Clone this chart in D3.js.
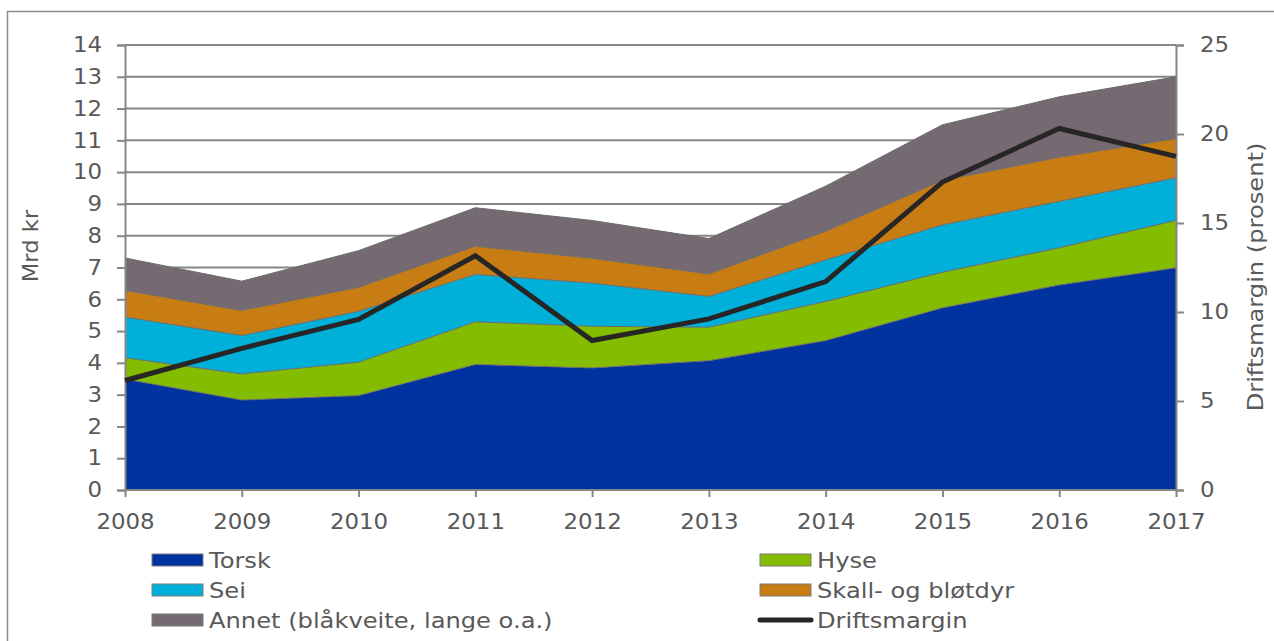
<!DOCTYPE html>
<html>
<head>
<meta charset="utf-8">
<script src="https://cdn.jsdelivr.net/npm/d3@7"></script>
<style>
  html, body { margin: 0; padding: 0; background: #fff; }
  svg { display: block; font-family: "DejaVu Sans", Verdana, sans-serif; }
</style>
</head>
<body>
<svg id="chart" width="1274" height="641"></svg>
<script>
const years = [2008, 2009, 2010, 2011, 2012, 2013, 2014, 2015, 2016, 2017];
const torsk = [3.49, 2.83, 2.97, 3.95, 3.84, 4.07, 4.70, 5.73, 6.45, 6.99];
const hyse  = [0.67, 0.82, 1.05, 1.34, 1.31, 1.05, 1.23, 1.12, 1.17, 1.49];
const sei   = [1.28, 1.21, 1.60, 1.49, 1.36, 0.97, 1.31, 1.49, 1.46, 1.34];
const skall = [0.84, 0.79, 0.76, 0.89, 0.78, 0.71, 0.90, 1.40, 1.39, 1.24];
const annet = [1.02, 0.92, 1.15, 1.21, 1.19, 1.11, 1.42, 1.75, 1.90, 1.94];
const driftsmargin = [6.15, 7.96, 9.58, 13.16, 8.40, 9.61, 11.71, 17.30, 20.31, 18.74];

const seriesNames = ["Torsk", "Hyse", "Sei", "Skall- og bløtdyr", "Annet (blåkveite, lange o.a.)"];
const seriesKeys = ["torsk", "hyse", "sei", "skall", "annet"];
const seriesColors = ["#0033a0", "#84bd00", "#00b0d8", "#c77c14", "#766a72"];
const leftTicks = [0,1,2,3,4,5,6,7,8,9,10,11,12,13,14];
const rightTicks = [0,5,10,15,20,25];

const rows = years.map((y, i) => ({
  year: y, torsk: torsk[i], hyse: hyse[i], sei: sei[i], skall: skall[i], annet: annet[i]
}));

const svg = d3.select("#chart");
const textColor = "#595959";
const axisColor = "#868686";
const fs = 21;

function widen(sel, f) {
  sel.each(function () {
    const w = this.getComputedTextLength();
    d3.select(this).attr("textLength", w * f).attr("lengthAdjust", "spacingAndGlyphs");
  });
}

// outer frame
svg.append("rect").attr("x", 7.5).attr("y", 11.5).attr("width", 1300).attr("height", 700)
  .attr("fill", "none").attr("stroke", "#8c8c8c").attr("stroke-width", 1.5);

const x = d3.scaleLinear().domain([2008, 2017]).range([125, 1176]);
const yL = d3.scaleLinear().domain([0, 14]).range([490, 45]);
const yR = d3.scaleLinear().domain([0, 25]).range([490, 45]);

// gridlines
svg.append("g").selectAll("line").data(leftTicks).join("line")
  .attr("x1", 125).attr("x2", 1176)
  .attr("y1", d => yL(d)).attr("y2", d => yL(d))
  .attr("stroke", axisColor).attr("stroke-width", 2);

// stacked areas
const stack = d3.stack().keys(seriesKeys);
const layers = stack(rows);
const area = d3.area().x(d => x(d.data.year)).y0(d => yL(d[0])).y1(d => yL(d[1]));
const topLine = d3.line().x(d => x(d.data.year)).y(d => yL(d[1]));
svg.append("g").selectAll("path").data(layers).join("path")
  .attr("d", area).attr("fill", (d, i) => seriesColors[i]);
svg.append("g").selectAll("path").data(layers).join("path")
  .attr("d", topLine).attr("fill", "none").attr("stroke", "#6b6b6b").attr("stroke-width", 1);

// axes
const axL = d3.axisLeft(yL).tickValues(leftTicks).tickSize(8).tickPadding(15).tickFormat(d3.format("d"));
const axR = d3.axisRight(yR).tickValues(rightTicks).tickSize(8).tickPadding(16).tickFormat(d3.format("d"));
const axB = d3.axisBottom(x).tickValues(years).tickSize(7).tickPadding(17).tickFormat(d3.format("d"));

function styleAxis(g) {
  g.select(".domain").attr("stroke", axisColor).attr("stroke-width", 2);
  g.selectAll(".tick line").attr("stroke", axisColor).attr("stroke-width", 2);
  g.selectAll(".tick text").attr("fill", textColor).style("font-size", fs + "px")
    .style("font-family", "'DejaVu Sans', Verdana, sans-serif")
    .call(widen, 1.09);
}
svg.append("g").attr("transform", "translate(125,0)").call(axL).call(styleAxis);
svg.append("g").attr("transform", "translate(1176,0)").call(axR).call(styleAxis);
svg.append("g").attr("transform", "translate(0,490)").call(axB).call(styleAxis)
  .call(g => g.select(".domain").attr("d", "M125,0H1176"));

// Driftsmargin line
const dmLine = d3.line().x((d, i) => x(years[i])).y(d => yR(d));
svg.append("path").datum(driftsmargin).attr("d", dmLine)
  .attr("fill", "none").attr("stroke", "#262626").attr("stroke-width", 5)
  .attr("stroke-linejoin", "miter");

// axis titles
svg.append("text").attr("transform", "translate(38,246) rotate(-90)")
  .attr("text-anchor", "middle").attr("fill", textColor).style("font-size", fs + "px").text("Mrd kr")
  .call(widen, 1.08);
svg.append("text").attr("transform", "translate(1263,277) rotate(-90)")
  .attr("text-anchor", "middle").attr("fill", textColor).style("font-size", fs + "px").text("Driftsmargin (prosent)")
  .call(widen, 1.15);

// legend
const legendItems = [
  { name: seriesNames[0], color: seriesColors[0], type: "rect", lx: 152, ly: 560 },
  { name: seriesNames[1], color: seriesColors[1], type: "rect", lx: 760, ly: 560 },
  { name: seriesNames[2], color: seriesColors[2], type: "rect", lx: 152, ly: 590 },
  { name: seriesNames[3], color: seriesColors[3], type: "rect", lx: 760, ly: 590 },
  { name: seriesNames[4], color: seriesColors[4], type: "rect", lx: 152, ly: 620 },
  { name: "Driftsmargin", color: "#262626", type: "line", lx: 760, ly: 620 }
];
const lg = svg.append("g").selectAll("g").data(legendItems).join("g")
  .attr("transform", d => `translate(${d.lx},${d.ly})`);
lg.filter(d => d.type === "rect").append("rect")
  .attr("x", 0).attr("y", -6).attr("width", 51).attr("height", 12)
  .attr("fill", d => d.color).attr("stroke", "#7a7a7a").attr("stroke-width", 1);
lg.filter(d => d.type === "line").append("line")
  .attr("x1", 0).attr("x2", 51).attr("y1", 0).attr("y2", 0)
  .attr("stroke", d => d.color).attr("stroke-width", 5).attr("stroke-linecap", "round");
lg.append("text").attr("x", 57).attr("y", 0).attr("dy", "0.36em")
  .attr("fill", textColor).style("font-size", fs + "px").text(d => d.name)
  .call(widen, 1.15);
</script>
</body>
</html>
